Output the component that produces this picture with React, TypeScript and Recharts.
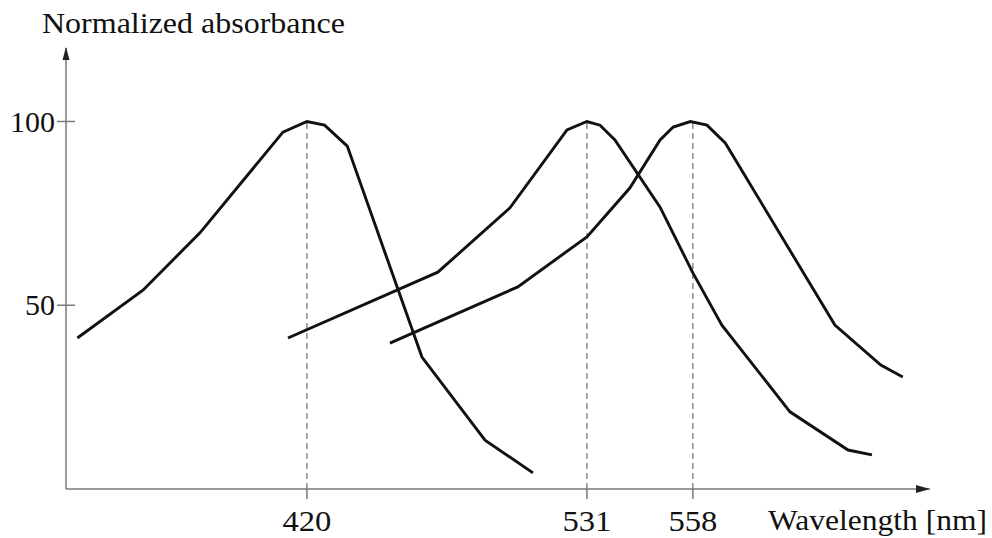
import { LineChart, Line, XAxis, YAxis, ReferenceLine, ReferenceDot, Label } from "recharts";

// horizontal positions are in the figure's wavelength units (schematic axis)
const SHORT_X = [329, 355, 377.6, 410.5, 420, 427, 436, 465.6, 490.6, 509.6];
const SHORT_Y = [41.1, 54.1, 69.7, 97.1, 100, 99, 93.3, 35.9, 13.3, 4.4];

const MEDIUM_X = [412.5, 471.9, 500.5, 523.1, 531, 536.2, 542.1, 560, 573, 584.5, 611.5, 634.5, 644];
const MEDIUM_Y = [41.1, 59, 76.5, 97.7, 100, 99, 95, 76.7, 58.8, 44.6, 21, 10.6, 9.3];

const LONG_X = [452.9, 503.6, 531, 548, 560, 565.2, 572, 578.6, 585.9, 629.3, 647.5, 656.2];
const LONG_Y = [39.7, 55, 68.6, 81.9, 95, 98.5, 100, 99, 94.1, 44.6, 33.7, 30.5];

const PEAKS = [420, 531, 573];
const PEAK_LABELS = ["420", "531", "558"];
const Y_TICKS = [50, 100];

const X_DOMAIN = [324.5, 667];
const Y_DOMAIN = [0, 120];

const Y_AXIS_WIDTH = 66;
const AXIS = "#7a7a7a";
const INK = "#111";
const FONT = "'Liberation Serif', 'DejaVu Serif', serif";

const toPoints = (xs: number[], ys: number[]) => xs.map((x, i) => ({ x, y: ys[i] }));

const shortData = toPoints(SHORT_X, SHORT_Y);
const mediumData = toPoints(MEDIUM_X, MEDIUM_Y);
const longData = toPoints(LONG_X, LONG_Y);

// the tick crosses the axis, label sits just left of it
function YTick({ y, payload }: any) {
  const label = String(payload.value);
  return (
    <g>
      <line x1={Y_AXIS_WIDTH - 9} x2={Y_AXIS_WIDTH + 9} y1={y} y2={y} stroke={AXIS} strokeWidth={1.5} />
      <text
        x={Y_AXIS_WIDTH - 11}
        y={y}
        dy={10}
        textAnchor="end"
        fontSize={29}
        fontFamily={FONT}
        fill={INK}
        textLength={label.length * 15}
        lengthAdjust="spacingAndGlyphs"
      >
        {label}
      </text>
    </g>
  );
}

function XTick({ x, y, payload }: any) {
  const label = PEAK_LABELS[PEAKS.indexOf(payload.value)];
  return (
    <text
      x={x}
      y={y}
      dy={32}
      textAnchor="middle"
      fontSize={29}
      fontFamily={FONT}
      fill={INK}
      textLength={label.length * 16.3}
      lengthAdjust="spacingAndGlyphs"
    >
      {label}
    </text>
  );
}

const arrowRight = (p: any) => (
  <polygon points={`${p.cx},${p.cy} ${p.cx - 14},${p.cy - 4} ${p.cx - 14},${p.cy + 4}`} fill="#222" />
);
const arrowUp = (p: any) => (
  <polygon points={`${p.cx},${p.cy - 1} ${p.cx - 3.5},${p.cy + 12} ${p.cx + 3.5},${p.cy + 12}`} fill="#222" />
);

export default function App() {
  return (
    <div style={{ position: "absolute", left: 0, top: 0, background: "#fff" }}>
      <LineChart width={992} height={538} margin={{ top: 48, right: 62, bottom: 0, left: 0 }}>
        <XAxis
          type="number"
          dataKey="x"
          domain={X_DOMAIN}
          ticks={PEAKS}
          interval={0}
          allowDataOverflow
          height={49}
          axisLine={{ stroke: AXIS, strokeWidth: 1.5 }}
          tickLine={{ stroke: AXIS, strokeWidth: 1.5 }}
          tickSize={10}
          tickMargin={0}
          tick={<XTick />}
        >
          <Label
            content={() => (
              <text x={768} y={530} fontSize={29} fontFamily={FONT} fill={INK} textLength={219} lengthAdjust="spacingAndGlyphs">
                Wavelength [nm]
              </text>
            )}
          />
        </XAxis>
        <YAxis
          type="number"
          domain={Y_DOMAIN}
          ticks={Y_TICKS}
          interval={0}
          width={Y_AXIS_WIDTH}
          axisLine={{ stroke: AXIS, strokeWidth: 1.5 }}
          tickLine={false}
          tickSize={9}
          tickMargin={0}
          tick={<YTick />}
        >
          <Label
            content={() => (
              <text x={42} y={33} fontSize={29} fontFamily={FONT} fill={INK} textLength={303} lengthAdjust="spacingAndGlyphs">
                Normalized absorbance
              </text>
            )}
          />
        </YAxis>

        {PEAKS.map((p) => (
          <ReferenceLine
            key={p}
            segment={[{ x: p, y: 0 }, { x: p, y: 100 }]}
            stroke={AXIS}
            strokeWidth={1.3}
            strokeDasharray="6 4"
          />
        ))}

        <ReferenceDot x={X_DOMAIN[1]} y={0} ifOverflow="visible" shape={arrowRight} />
        <ReferenceDot x={X_DOMAIN[0]} y={Y_DOMAIN[1]} ifOverflow="visible" shape={arrowUp} />

        <Line data={shortData} dataKey="y" type="linear" stroke={INK} strokeWidth={2.9} dot={false} isAnimationActive={false} />
        <Line data={mediumData} dataKey="y" type="linear" stroke={INK} strokeWidth={2.9} dot={false} isAnimationActive={false} />
        <Line data={longData} dataKey="y" type="linear" stroke={INK} strokeWidth={2.9} dot={false} isAnimationActive={false} />
      </LineChart>
    </div>
  );
}
